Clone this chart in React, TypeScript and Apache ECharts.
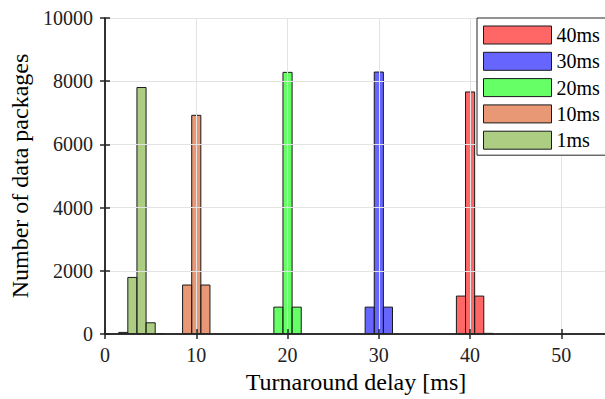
import React, { useEffect, useRef } from "react";
import * as echarts from "echarts";

// ---- data ----
const binWidth = 1; // ms
const seriesNames = ["1ms", "10ms", "20ms", "30ms", "40ms"];
const legendOrder = ["40ms", "30ms", "20ms", "10ms", "1ms"];

const bins1ms = [2, 3, 4, 5, 6];
const counts1ms = [50, 1790, 7800, 355, 12];

const bins10ms = [9, 10, 11];
const counts10ms = [1550, 6920, 1550];

const bins20ms = [19, 20, 21];
const counts20ms = [850, 8280, 850];

const bins30ms = [29, 30, 31];
const counts30ms = [850, 8290, 850];

const bins40ms = [39, 40, 41, 42];
const counts40ms = [1200, 7660, 1200, 20];

const xTicks = [0, 10, 20, 30, 40, 50];
const yTicks = [0, 2000, 4000, 6000, 8000, 10000];

const xMax = 55;

const colors: Record<string, string> = {
  "1ms": "#ADCD83",
  "10ms": "#E89875",
  "20ms": "#66FF66",
  "30ms": "#6666FF",
  "40ms": "#FF6666",
};
const fills: Record<string, string> = {
  "1ms": "rgba(119,172,48,0.6)",
  "10ms": "rgba(217,83,25,0.6)",
  "20ms": "rgba(0,255,0,0.6)",
  "30ms": "rgba(0,0,255,0.6)",
  "40ms": "rgba(255,0,0,0.6)",
};

const seriesBins: Record<string, number[]> = {
  "1ms": bins1ms,
  "10ms": bins10ms,
  "20ms": bins20ms,
  "30ms": bins30ms,
  "40ms": bins40ms,
};
const seriesCounts: Record<string, number[]> = {
  "1ms": counts1ms,
  "10ms": counts10ms,
  "20ms": counts20ms,
  "30ms": counts30ms,
  "40ms": counts40ms,
};

const FONT = "Liberation Serif, Times New Roman, serif";
const AXIS = "#262626";
const GRID = "#e3e3e3";

export default function App() {
  const ref = useRef<HTMLDivElement>(null);

  useEffect(() => {
    if (!ref.current) return;
    const chart = echarts.init(ref.current, undefined, { renderer: "svg" });

    const renderBin = (fill: string) => (params: any, api: any) => {
      const x = api.value(0);
      const y = api.value(1);
      const a = api.coord([x - binWidth / 2, y]);
      const b = api.coord([x + binWidth / 2, 0]);
      return {
        type: "rect",
        shape: { x: a[0], y: a[1], width: b[0] - a[0], height: b[1] - a[1] },
        style: { fill, stroke: "#1a1a1a", lineWidth: 1 },
      };
    };

    const series = seriesNames.map((name) => ({
      name,
      type: "custom",
      xAxisIndex: 0,
      yAxisIndex: 0,
      clip: true,
      itemStyle: { color: colors[name] },
      encode: { x: 0, y: 1 },
      data: seriesBins[name].map((c, i) => [c, seriesCounts[name][i]]),
      renderItem: renderBin(fills[name]),
      z: 2,
    }));

    const xFormatter = (v: number) => (xTicks.includes(v) ? String(v) : "");
    const yFormatter = (v: number) => (yTicks.includes(v) ? String(v) : "");

    chart.setOption({
      animation: false,
      backgroundColor: "#ffffff",
      grid: { left: 105, right: 1, top: 18, bottom: 64, containLabel: false },
      legend: {
        orient: "vertical",
        left: 477,
        top: 18,
        padding: [7, 60, 5, 6],
        itemWidth: 68,
        itemHeight: 18,
        itemGap: 6.3,
        borderColor: AXIS,
        borderWidth: 1,
        backgroundColor: "#ffffff",
        icon: "rect",
        textStyle: { fontFamily: FONT, fontSize: 20, color: "#000", lineHeight: 18 },
        data: legendOrder.map((n) => ({
          name: n,
          icon: "rect",
          itemStyle: { color: colors[n], borderColor: "#1a1a1a", borderWidth: 1 },
        })),
        z: 10,
      },
      xAxis: [
        {
          type: "value",
          min: 0,
          max: xMax,
          interval: 10,
          name: "Turnaround delay [ms]",
          nameLocation: "middle",
          nameGap: 36,
          nameTextStyle: { fontFamily: FONT, fontSize: 24, color: "#000" },
          axisLine: { show: true, lineStyle: { color: AXIS, width: 1.5 } },
          axisTick: { show: true, inside: true, length: 5, lineStyle: { color: AXIS, width: 1.5 } },
          axisLabel: { fontFamily: FONT, fontSize: 20, color: "#222", margin: 11, formatter: xFormatter },
          splitLine: { show: true, lineStyle: { color: GRID, width: 1 } },
          z: 5,
        },
        {
          type: "value",
          position: "top",
          min: 0,
          max: xMax,
          interval: 10,
          axisLine: { show: true, lineStyle: { color: AXIS, width: 1.5 } },
          axisTick: { show: true, inside: true, length: 5, lineStyle: { color: AXIS, width: 1.5 } },
          axisLabel: { show: false },
          splitLine: { show: false },
          z: 5,
        },
      ],
      yAxis: [
        {
          type: "value",
          min: 0,
          max: 10000,
          interval: 2000,
          name: "Number of data packages",
          nameLocation: "middle",
          nameGap: 62,
          nameTextStyle: { fontFamily: FONT, fontSize: 24, color: "#000" },
          axisLine: { show: true, lineStyle: { color: AXIS, width: 1.5 } },
          axisTick: { show: true, inside: true, length: 5, lineStyle: { color: AXIS, width: 1.5 } },
          axisLabel: { fontFamily: FONT, fontSize: 20, color: "#222", margin: 12, formatter: yFormatter },
          splitLine: { show: true, lineStyle: { color: GRID, width: 1 } },
          z: 5,
        },
        {
          type: "value",
          position: "right",
          min: 0,
          max: 10000,
          interval: 2000,
          axisLine: { show: true, lineStyle: { color: AXIS, width: 1.5 } },
          axisTick: { show: true, inside: true, length: 5, lineStyle: { color: AXIS, width: 1.5 } },
          axisLabel: { show: false },
          splitLine: { show: false },
          z: 5,
        },
      ],
      series,
    });

    return () => chart.dispose();
  }, []);

  return (
    <div
      ref={ref}
      style={{ position: "fixed", left: 0, top: 0, width: 610, height: 399, background: "#fff" }}
    />
  );
}
